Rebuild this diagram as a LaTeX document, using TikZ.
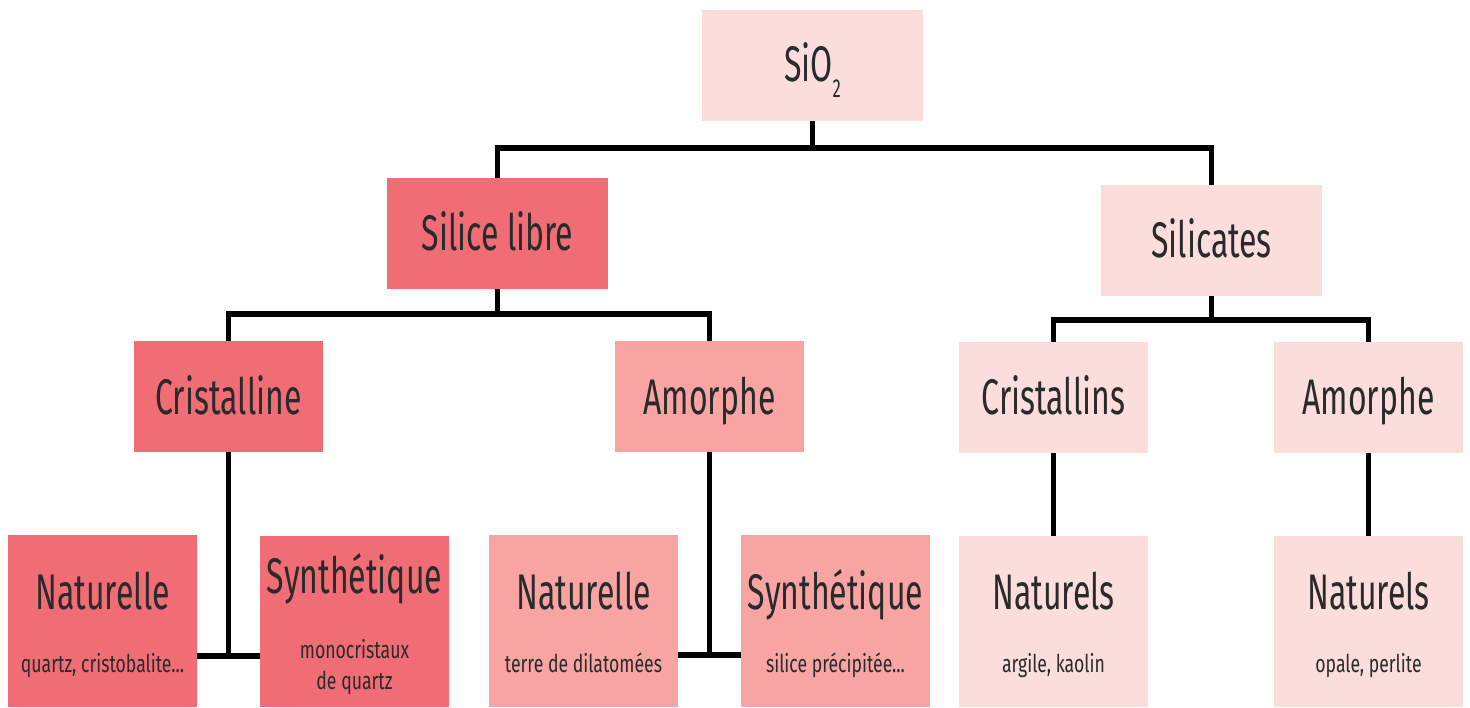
\documentclass[tikz,border=0pt]{standalone}
\usepackage{fontspec}
\setmainfont{Fira Sans}[FakeStretch=0.64]
\newfontfamily\smallfam{Fira Sans}[FakeStretch=0.72]
\definecolor{cdark}{HTML}{F06D75}
\definecolor{cmid}{HTML}{F7A4A3}
\definecolor{clight}{HTML}{FBDDDC}
\definecolor{ctext}{HTML}{2A2A2A}
\begin{document}
\begin{tikzpicture}[x=1pt,y=-1pt,
  box/.style={rectangle,inner sep=0pt,draw=none},
  dk/.style={box,fill=cdark},
  md/.style={box,fill=cmid},
  lt/.style={box,fill=clight},
  big/.style={text=ctext,inner sep=0pt,anchor=base,font=\fontsize{50}{50}\selectfont},
  small/.style={text=ctext,inner sep=0pt,anchor=base,font=\smallfam\fontsize{24.5}{24.5}\selectfont},
  conn/.style={line width=5.5pt,draw=black,line join=miter}]
\useasboundingbox (0,0) rectangle (1470,708);
% boxes
\node[lt,minimum width=221pt,minimum height=111pt] (sio) at (812.5,65.5) {};
\node[dk,minimum width=221pt,minimum height=111pt] (sl) at (497.5,233.5) {};
\node[lt,minimum width=221pt,minimum height=111pt] (sil) at (1211.5,240.5) {};
\node[dk,minimum width=189pt,minimum height=111pt] (cr) at (228.5,396.5) {};
\node[md,minimum width=189pt,minimum height=111pt] (am) at (709.5,396.5) {};
\node[lt,minimum width=189pt,minimum height=111pt] (crs) at (1053.5,397.5) {};
\node[lt,minimum width=189pt,minimum height=111pt] (amr) at (1368.5,397.5) {};
\node[dk,minimum width=189pt,minimum height=172pt] (n1) at (102.5,621) {};
\node[dk,minimum width=189pt,minimum height=171pt] (s1) at (354.5,621.5) {};
\node[md,minimum width=189pt,minimum height=172pt] (n2) at (583.5,621) {};
\node[md,minimum width=189pt,minimum height=172pt] (s2) at (835.5,621) {};
\node[lt,minimum width=189pt,minimum height=171pt] (n3) at (1053.5,621.5) {};
\node[lt,minimum width=189pt,minimum height=171pt] (n4) at (1368.5,621.5) {};
% connectors
\coordinate (t1) at (812.5,148);
\coordinate (t2) at (497.5,314);
\coordinate (t3) at (1211.5,320);
\coordinate (t4) at (228.5,656);
\coordinate (t5) at (709.5,655);
\draw[conn] (sio.south) -- (t1);
\draw[conn] (sl.north) |- (t1) -| (sil.north);
\draw[conn] (sl.south) -- (t2);
\draw[conn] (cr.north) |- (t2) -| (am.north);
\draw[conn] (sil.south) -- (t3);
\draw[conn] (crs.north) |- (t3) -| (amr.north);
\draw[conn] (cr.south) -- (t4);
\draw[conn] (n1.east |- t4) -- (s1.west |- t4);
\draw[conn] (am.south) -- (t5);
\draw[conn] (n2.east |- t5) -- (s2.west |- t5);
\draw[conn] (crs.south) -- (n3.north);
\draw[conn] (amr.south) -- (n4.north);
% texts
\node[big] (tsio) at (812.5,82) {SiO\raisebox{-16pt}{\fontsize{26}{26}\selectfont 2}};
\node[big] (tsl) at (497.5,251) {Silice libre};
\node[big] (tsil) at (1211.5,258) {Silicates};
\node[big] (tcr) at (228.5,414) {Cristalline};
\node[big] (tam) at (709.5,414) {Amorphe};
\node[big] (tcrs) at (1053.5,415) {Cristallins};
\node[big] (tamr) at (1368.5,415) {Amorphe};
\node[big] (tn1) at (102.5,609) {Naturelle};
\node[small] (sn1) at (102.5,672) {quartz, cristobalite...};
\node[big] (ts1) at (354.5,593) {Synthétique};
\node[small] (ss1a) at (354.5,658) {monocristaux};
\node[small] (ss1b) at (354.5,689) {de quartz};
\node[big] (tn2) at (583.5,609) {Naturelle};
\node[small] (sn2) at (583.5,672) {terre de dilatomées};
\node[big] (ts2) at (835.5,609) {Synthétique};
\node[small] (ss2) at (835.5,672) {silice précipitée...};
\node[big] (tn3) at (1053.5,609) {Naturels};
\node[small] (sn3) at (1053.5,672) {argile, kaolin};
\node[big] (tn4) at (1368.5,609) {Naturels};
\node[small] (sn4) at (1368.5,672) {opale, perlite};
\end{tikzpicture}
\end{document}
